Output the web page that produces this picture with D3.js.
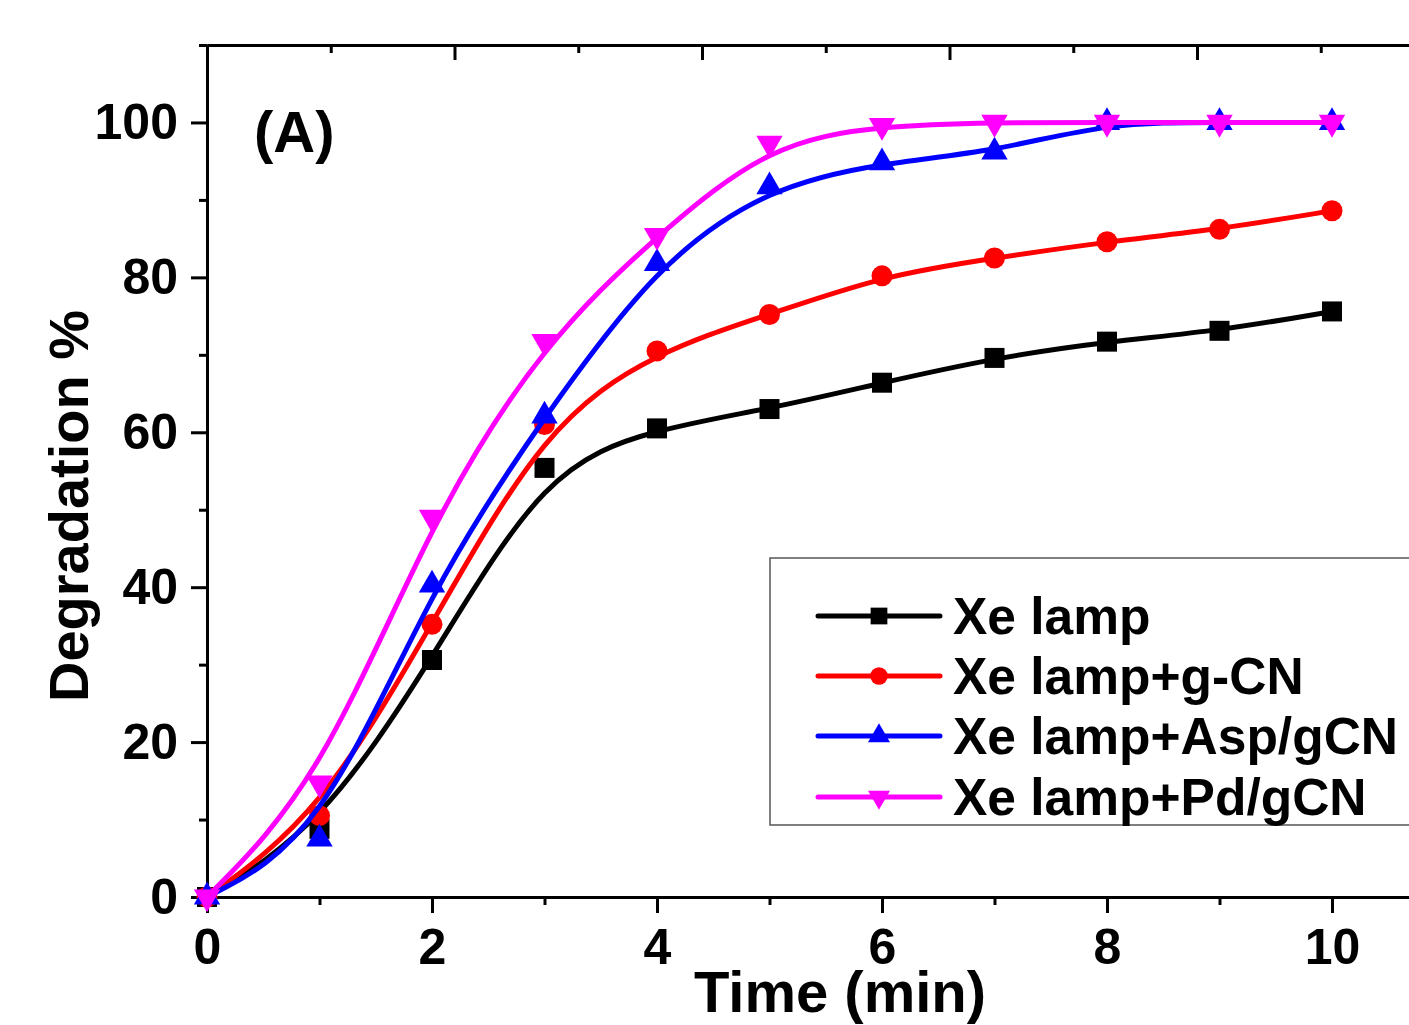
<!DOCTYPE html>
<html>
<head>
<meta charset="utf-8">
<script src="https://cdn.jsdelivr.net/npm/d3@7"></script>
<style>
  body { margin: 0; background: #fff; }
  svg { display: block; }
  text { font-family: "Liberation Sans", Arial, sans-serif; font-weight: bold; }
</style>
</head>
<body>
<div id="chart"></div>
<script>
// data
const times = [0, 1, 2, 3, 4, 5, 6, 7, 8, 9, 10];
const xeLamp = [0, 8.8, 30.6, 55.4, 60.5, 63.0, 66.4, 69.6, 71.7, 73.1, 75.6];
const xeGCN = [0, 10.5, 35.2, 61.0, 70.5, 75.2, 80.2, 82.5, 84.6, 86.2, 88.6];
const xeAsp = [0, 7.5, 40.3, 62.1, 81.8, 91.7, 94.8, 96.2, 100, 100, 100];
const xePd = [0, 14.7, 49.0, 71.7, 85.4, 97.3, 99.6, 100, 100, 100, 100];
const seriesNames = ["Xe lamp", "Xe lamp+g-CN", "Xe lamp+Asp/gCN", "Xe lamp+Pd/gCN"];
const seriesColors = ["#000000", "#ff0000", "#0000ff", "#ff00ff"];
const xMajor = [0, 2, 4, 6, 8, 10];
const xMinor = [1, 3, 5, 7, 9];
const yMajor = [0, 20, 40, 60, 80, 100];
const yMinor = [10, 30, 50, 70, 90, 110];
const topMajor = [2, 4, 6, 8];
const topMinor = [1, 3, 5, 7, 9];

const series = [xeLamp, xeGCN, xeAsp, xePd].map((vals, i) => ({
  name: seriesNames[i],
  color: seriesColors[i],
  values: vals.map((v, j) => ({t: times[j], v: v}))
}));

const W = 1409, H = 1025;
const svg = d3.select("#chart")
  .append("svg")
    .attr("width", W)
    .attr("height", H);

const x = d3.scaleLinear().domain([0, 10.7]).range([207, 1410.75]);
const y = d3.scaleLinear().domain([0, 110]).range([897, 45]);
// top axis of the frame has its own spacing in the original
const xTop = d3.scaleLinear().domain([0, 10]).range([207, 1444.5]);

function styleAxis(g) {
  g.select(".domain").attr("stroke", "#000").attr("stroke-width", 3);
  g.selectAll(".tick line").attr("stroke", "#000").attr("stroke-width", 3);
  g.selectAll(".tick text").attr("fill", "#000")
    .style("font-family", "'Liberation Sans', Arial, sans-serif")
    .style("font-weight", "bold");
}

// bottom axis
svg.append("g")
  .attr("transform", "translate(0,897)")
  .call(d3.axisBottom(x).tickValues(xMinor).tickSize(8).tickSizeOuter(0).tickFormat(""))
  .call(styleAxis);
svg.append("g")
  .attr("transform", "translate(0,897)")
  .call(d3.axisBottom(x).tickValues(xMajor).tickSize(16).tickSizeOuter(0).tickPadding(15).tickFormat(d3.format("d")))
  .call(styleAxis)
  .selectAll(".tick text").style("font-size", "50px");

// top axis (ticks inward, no labels)
svg.append("g")
  .attr("transform", "translate(0,45)")
  .call(d3.axisBottom(xTop).tickValues(topMinor).tickSize(8).tickSizeOuter(0).tickFormat(""))
  .call(styleAxis);
svg.append("g")
  .attr("transform", "translate(0,45)")
  .call(d3.axisBottom(xTop).tickValues(topMajor).tickSize(15).tickSizeOuter(0).tickFormat(""))
  .call(styleAxis);

// left axis
svg.append("g")
  .attr("transform", "translate(207,0)")
  .call(d3.axisLeft(y).tickValues(yMinor).tickSize(8).tickSizeOuter(0).tickFormat(""))
  .call(styleAxis);
svg.append("g")
  .attr("transform", "translate(207,0)")
  .call(d3.axisLeft(y).tickValues(yMajor).tickSize(16).tickSizeOuter(0).tickPadding(13).tickFormat(d3.format("d")))
  .call(styleAxis)
  .selectAll(".tick text").style("font-size", "50px");

// axis titles
svg.append("text")
  .attr("x", 840)
  .attr("y", 1012)
  .attr("text-anchor", "middle")
  .style("font-size", "58px")
  .text("Time (min)");

svg.append("text")
  .attr("transform", "translate(88,506) rotate(-90)")
  .attr("text-anchor", "middle")
  .style("font-size", "56px")
  .text("Degradation %");

svg.append("text")
  .attr("x", 254)
  .attr("y", 152)
  .style("font-size", "58px")
  .text("(A)");

// curves (B-spline look) and markers
const line = d3.line()
  .x(d => x(d.t))
  .y(d => y(d.v))
  .curve(d3.curveBasis);

const symbols = [
  {type: d3.symbolSquare, size: 400, rot: 0},
  {type: d3.symbolCircle, size: 346, rot: 0},
  {type: d3.symbolTriangle, size: 300, rot: 0},
  {type: d3.symbolTriangle, size: 300, rot: 180}
];

series.forEach((s, i) => {
  svg.append("path")
    .datum(s.values)
    .attr("d", line)
    .attr("fill", "none")
    .attr("stroke", s.color)
    .attr("stroke-width", 5);

  svg.append("g")
    .selectAll("path")
    .data(s.values)
    .join("path")
      .attr("d", d3.symbol().type(symbols[i].type).size(symbols[i].size))
      .attr("transform", d => `translate(${x(d.t)},${y(d.v)}) rotate(${symbols[i].rot})`)
      .attr("fill", s.color);
});

// legend
const legend = svg.append("g");
legend.append("rect")
  .attr("x", 770)
  .attr("y", 558)
  .attr("width", 700)
  .attr("height", 267)
  .attr("fill", "#fff")
  .attr("stroke", "#555")
  .attr("stroke-width", 1.5);

const legendRows = [616, 676, 736, 797];
series.forEach((s, i) => {
  const ly = legendRows[i];
  legend.append("line")
    .attr("x1", 818).attr("x2", 940)
    .attr("y1", ly).attr("y2", ly)
    .attr("stroke", s.color)
    .attr("stroke-width", 5)
    .attr("stroke-linecap", "round");
  legend.append("path")
    .attr("d", d3.symbol().type(symbols[i].type).size(symbols[i].size * 0.7))
    .attr("transform", `translate(879,${ly}) rotate(${symbols[i].rot})`)
    .attr("fill", s.color);
  legend.append("text")
    .attr("x", 953)
    .attr("y", ly + 18)
    .style("font-size", "51.5px")
    .text(s.name);
});
</script>
</body>
</html>
